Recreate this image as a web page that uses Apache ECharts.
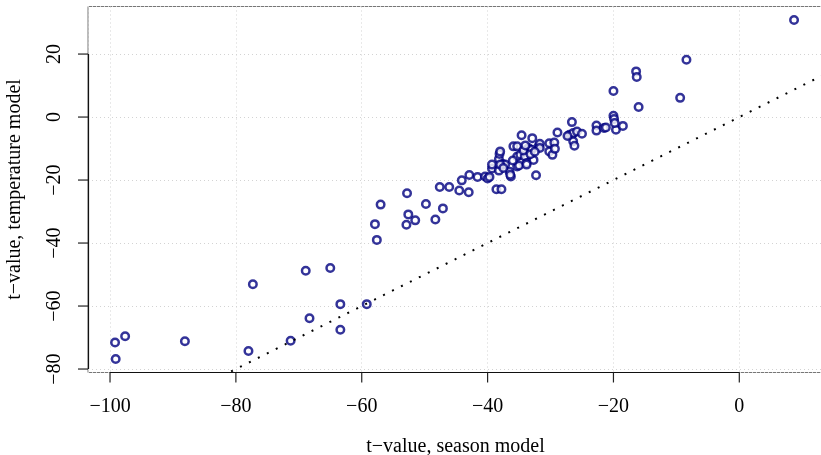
<!DOCTYPE html>
<html>
<head>
<meta charset="utf-8">
<script src="https://cdn.jsdelivr.net/npm/echarts@6/dist/echarts.min.js"></script>
<style>
  html, body { margin: 0; padding: 0; background: #fff; }
  #chart { width: 821px; height: 455px; }
</style>
</head>
<body>
<div id="chart"></div>
<script>
// t-values: season model (x) vs temperature model (y)
var seasonT = [
  -99.2, -97.6, -99.1, -88.1, -77.3, -78.0, -71.3, -68.3, -63.4, -63.4,
  -59.2, -68.9, -65.0, -57.6, -57.9, -57.0, -52.9, -52.6, -51.5, -52.8,
  -49.8, -48.3, -47.1, -47.6, -46.1, -44.5, -43.0, -38.6, -37.8, -44.1,
  -42.9, -41.6, -40.4, -40.0, -39.7, -39.3, -38.2, -38.2, -38.1, -37.6,
  -37.2, -36.5, -36.3, -35.9, -35.3, -35.3, -35.3, -35.0, -34.6, -34.8,
  -34.1, -33.8, -33.5, -32.9, -32.7, -32.3, -31.9, -31.7, -30.2, -30.2,
  -29.7, -29.4, -28.9, -29.3, -33.0, -31.7, -38.0, -39.3, -38.0, -37.5,
  -33.8, -36.4, -26.6, -27.0, -26.6, -26.4, -25.8, -25.0, -26.4, -26.2,
  -22.7, -22.7, -21.5, -21.2, -20.0, -19.9, -19.6, -18.5, -20.0, -16.4,
  -16.3, -16.0, -9.4, -8.4, 8.7, -34.3, -33.2, -32.5, -36.0, -34.0,
  -27.3, -19.8
];
var temperatureT = [
  -71.6, -69.6, -76.8, -71.2, -53.1, -74.3, -71.0, -63.9, -67.5, -59.4,
  -59.4, -48.8, -47.9, -39.0, -34.0, -27.8, -34.2, -30.9, -32.8, -24.2,
  -27.6, -32.5, -29.0, -22.2, -22.2, -23.3, -23.9, -22.9, -22.9, -20.1,
  -18.4, -19.0, -18.9, -19.5, -19.0, -16.3, -17.0, -13.3, -11.7, -14.9,
  -15.1, -17.4, -18.9, -9.3, -9.3, -12.5, -15.7, -15.4, -5.8, -12.0,
  -12.5, -14.6, -9.8, -6.7, -13.6, -18.5, -9.3, -8.5, -8.3, -10.9,
  -12.0, -8.1, -4.9, -10.1, -10.4, -9.8, -10.9, -15.1, -15.1, -16.2,
  -15.1, -18.3, -1.6, -5.6, -5.6, -5.1, -4.6, -5.3, -7.7, -9.1,
  -2.7, -4.3, -3.5, -3.3, 0.4, -0.6, -4.0, -2.8, 8.3, 14.5,
  12.7, 3.2, 6.1, 18.2, 30.8, -10.6, -11.8, -11.0, -13.8, -9.0,
  -6.0, -1.9
];
var xTicks = [-100, -80, -60, -40, -20, 0];
var yTicks = [-80, -60, -40, -20, 0, 20];
var xRange = [-103.5, 13.3];
var yRange = [-81.1, 35.1];

var points = seasonT.map(function (x, i) { return [x, temperatureT[i]]; });
var fontFamily = '"Liberation Serif", "DejaVu Serif", serif';
function minus(v) { return String(v).replace('-', '\u2212'); }

// tick marks drawn outward from the box, like R's axis()
var tickData = xTicks.map(function (v) { return [v, yRange[0], 0]; })
  .concat(yTicks.map(function (v) { return [xRange[0], v, 1]; }));
function renderTick(params, api) {
  var p = api.coord([api.value(0), api.value(1)]);
  var vertical = api.value(2) === 0;
  return {
    type: 'line',
    shape: vertical
      ? { x1: p[0], y1: p[1], x2: p[0], y2: p[1] + 10 }
      : { x1: p[0], y1: p[1], x2: p[0] - 10, y2: p[1] },
    style: { stroke: '#222', lineWidth: 1.2 }
  };
}

var chart = echarts.init(document.getElementById('chart'));
chart.setOption({
  animation: false,
  grid: {
    left: 88, top: 6.5, right: -2, bottom: 82.5,
    containLabel: false, outerBoundsMode: 'none',
    show: true, borderColor: '#777', borderWidth: 1
  },
  xAxis: {
    type: 'value',
    min: xRange[0], max: xRange[1],
    splitNumber: 5,
    name: 't\u2212value, season model',
    nameLocation: 'middle',
    nameGap: 64.5,
    nameTextStyle: { fontFamily: fontFamily, fontSize: 20, color: '#000' },
    axisLine: { show: false, onZero: false },
    axisTick: { show: false },
    axisLabel: {
      customValues: xTicks, margin: 24.5,
      fontFamily: fontFamily, fontSize: 20, color: '#000',
      formatter: minus
    },
    splitLine: { show: true, lineStyle: { color: '#d3d3d3', type: [1, 3] } }
  },
  yAxis: {
    type: 'value',
    min: yRange[0], max: yRange[1],
    splitNumber: 5,
    name: 't\u2212value, temperature model',
    nameLocation: 'middle',
    nameGap: 63,
    nameRotate: 90,
    nameTextStyle: { fontFamily: fontFamily, fontSize: 20, color: '#000' },
    axisLine: { show: false, onZero: false },
    axisTick: { show: false },
    axisLabel: {
      customValues: yTicks, margin: 23.5, rotate: 90,
      fontFamily: fontFamily, fontSize: 20, color: '#000',
      formatter: minus
    },
    splitLine: { show: true, lineStyle: { color: '#d3d3d3', type: [1, 3] } }
  },
  series: [
    {
      // 1:1 reference line
      type: 'line',
      data: [[xRange[0], xRange[0]], [xRange[1], xRange[1]]],
      symbol: 'none',
      clip: true,
      lineStyle: { color: '#000', width: 2, type: [2, 8] },
      silent: true,
      markLine: {
        symbol: 'none',
        silent: true,
        label: { show: false },
        lineStyle: { color: '#111', width: 1.2, type: 'solid' },
        data: [
          [{ coord: [xTicks[0], yRange[0]] }, { coord: [xTicks[xTicks.length - 1], yRange[0]] }],
          [{ coord: [xRange[0], yTicks[0]] }, { coord: [xRange[0], yTicks[yTicks.length - 1]] }]
        ]
      }
    },
    {
      type: 'scatter',
      data: points,
      symbol: 'circle',
      symbolSize: 7.5,
      itemStyle: { color: '#fff', borderColor: '#000080', borderWidth: 2.5 }
    },
    {
      type: 'custom',
      data: tickData,
      renderItem: renderTick,
      clip: false,
      silent: true,
      z: 10
    }
  ]
});
</script>
</body>
</html>
